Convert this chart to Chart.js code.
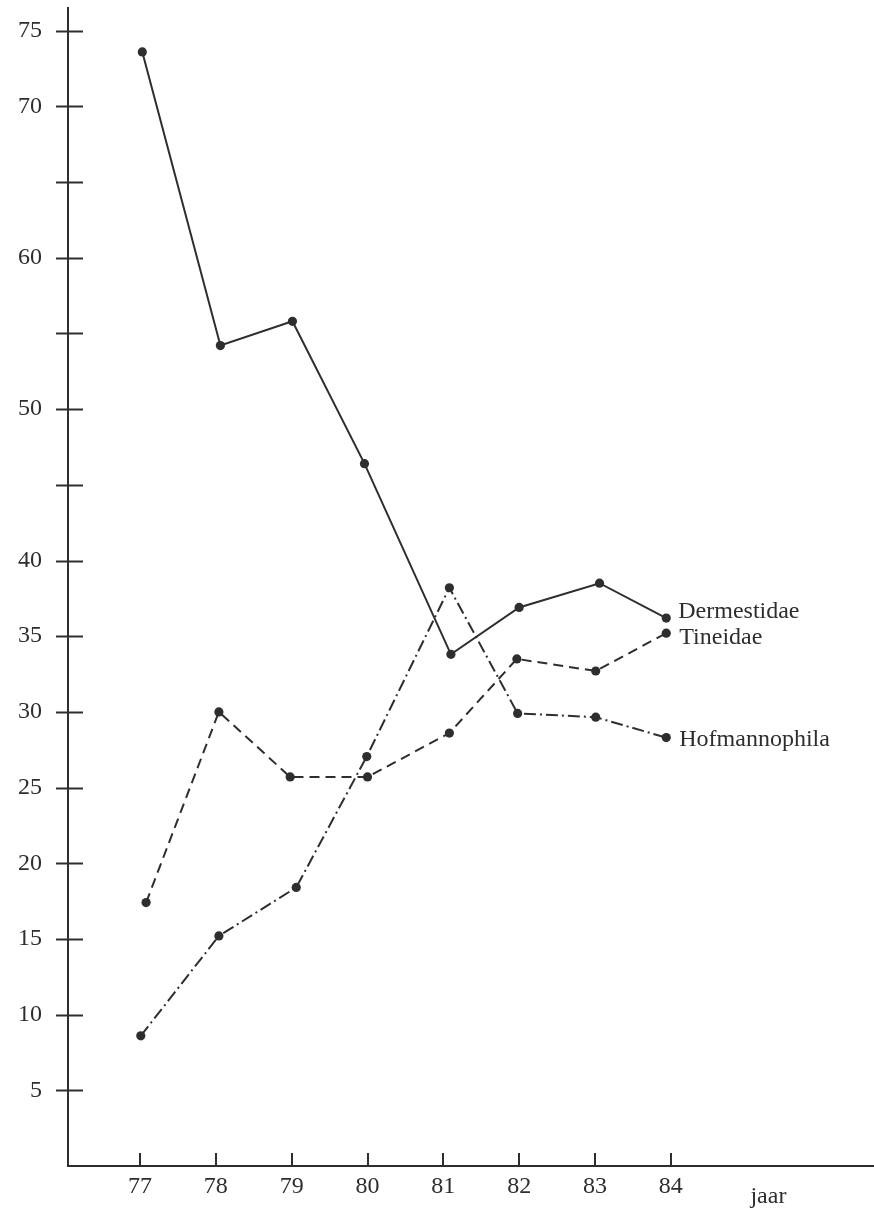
<!DOCTYPE html>
<html>
<head>
<meta charset="utf-8">
<title>jaar</title>
<script src="https://cdn.jsdelivr.net/npm/chart.js@4.4.1/dist/chart.umd.min.js"></script>
<style>
  html, body { margin: 0; padding: 0; background: #fff; }
  #wrap { width: 874px; height: 1210px; }
</style>
</head>
<body>
<div id="wrap"><canvas id="chart" width="874" height="1210"></canvas></div>
<script>
// tick years on the x axis
const years = [77, 78, 79, 80, 81, 82, 83, 84]
// y tick values whose label is left out in the original
const hiddenYLabels = [0, 45, 55, 65]

// measured point positions (year, value) per series
const dermestidaeX = [77.03, 78.06, 79.01, 79.96, 81.10, 82.00, 83.06, 83.94]
const dermestidaeY = [73.6, 54.2, 55.8, 46.4, 33.8, 36.9, 38.5, 36.2]

const tineidaeX = [77.08, 78.04, 78.98, 80.00, 81.08, 81.97, 83.01, 83.94]
const tineidaeY = [17.4, 30.0, 25.7, 25.7, 28.6, 33.5, 32.7, 35.2]

const hofmannophilaX = [77.01, 78.04, 79.06, 79.99, 81.08, 81.98, 83.01, 83.94]
const hofmannophilaY = [8.6, 15.2, 18.4, 27.05, 38.2, 29.9, 29.65, 28.3]

const ink = "#2e2e2e"
const serif = "'Liberation Serif', 'DejaVu Serif', serif"

const toPoints = (xs, ys) => xs.map((x, i) => ({ x: x, y: ys[i] }))

// where the series name sits next to its last point (pixel offsets)
const seriesLabels = [
  { text: "Dermestidae", dx: 12, dy: 0 },
  { text: "Tineidae", dx: 13, dy: 11 },
  { text: "Hofmannophila", dx: 13, dy: 8 },
]

// tick marks that cross the axes, series names and the axis word
const annotate = {
  id: "annotate",
  afterDraw(chart) {
    const ctx = chart.ctx
    const xs = chart.scales.x
    const ys = chart.scales.y
    const area = chart.chartArea
    ctx.save()
    ctx.strokeStyle = ink
    ctx.lineWidth = 2

    // y ticks: a short bar across the axis
    ys.ticks.forEach((t) => {
      if (t.value <= 0) return
      const py = Math.round(ys.getPixelForValue(t.value)) + 0.5
      ctx.beginPath()
      ctx.moveTo(area.left - 12, py)
      ctx.lineTo(area.left + 15, py)
      ctx.stroke()
    })

    // x ticks: pointing up from the axis
    years.forEach((v) => {
      const px = Math.round(xs.getPixelForValue(v))
      ctx.beginPath()
      ctx.moveTo(px, area.bottom - 13)
      ctx.lineTo(px, area.bottom)
      ctx.stroke()
    })

    // series names next to the last point
    ctx.fillStyle = ink
    ctx.font = "24px " + serif
    ctx.textAlign = "left"
    ctx.textBaseline = "alphabetic"
    chart.data.datasets.forEach((ds, i) => {
      const meta = chart.getDatasetMeta(i)
      const last = meta.data[meta.data.length - 1]
      const lab = seriesLabels[i]
      ctx.fillText(lab.text, last.x + lab.dx, last.y + lab.dy)
    })

    // axis word
    ctx.fillText("jaar", xs.getPixelForValue(85.05), area.bottom + 37)
    ctx.restore()
  },
}

const lineStyle = {
  borderColor: ink,
  borderWidth: 2,
  pointRadius: 4.6,
  pointBackgroundColor: ink,
  pointBorderWidth: 0,
  tension: 0,
  fill: false,
  clip: false,
}

new Chart(document.getElementById("chart"), {
  type: "line",
  data: {
    datasets: [
      { label: "Dermestidae", data: toPoints(dermestidaeX, dermestidaeY), ...lineStyle },
      { label: "Tineidae", data: toPoints(tineidaeX, tineidaeY), ...lineStyle, borderDash: [10, 6] },
      { label: "Hofmannophila", data: toPoints(hofmannophilaX, hofmannophilaY), ...lineStyle, borderDash: [12, 4, 2, 4] },
    ],
  },
  options: {
    responsive: false,
    animation: false,
    layout: { autoPadding: false, padding: { top: 8, right: 0, bottom: 0, left: 0 } },
    plugins: {
      legend: { display: false },
      tooltip: { enabled: false },
    },
    scales: {
      x: {
        type: "linear",
        min: 76.05,
        max: 86.68,
        afterFit: (s) => {
          s.height = 44
          s.paddingLeft = 0
          s.paddingRight = 0
        },
        afterBuildTicks: (s) => { s.ticks = years.map((v) => ({ value: v })) },
        grid: { display: false, drawTicks: false },
        border: { display: true, color: ink, width: 2 },
        ticks: {
          color: ink,
          padding: 6,
          maxRotation: 0,
          autoSkip: false,
          font: { family: serif, size: 24 },
          callback: (v) => String(v),
        },
      },
      y: {
        min: 0,
        max: 76.5,
        afterFit: (s) => {
          s.width = 68
          s.paddingTop = 0
          s.paddingBottom = 0
        },
        grid: { display: false, drawTicks: false },
        border: { display: true, color: ink, width: 2 },
        ticks: {
          stepSize: 5,
          includeBounds: false,
          color: ink,
          padding: 26,
          font: { family: serif, size: 24 },
          callback: (v) => (hiddenYLabels.includes(v) ? "" : String(v)),
        },
      },
    },
  },
  plugins: [annotate],
})
</script>
</body>
</html>
